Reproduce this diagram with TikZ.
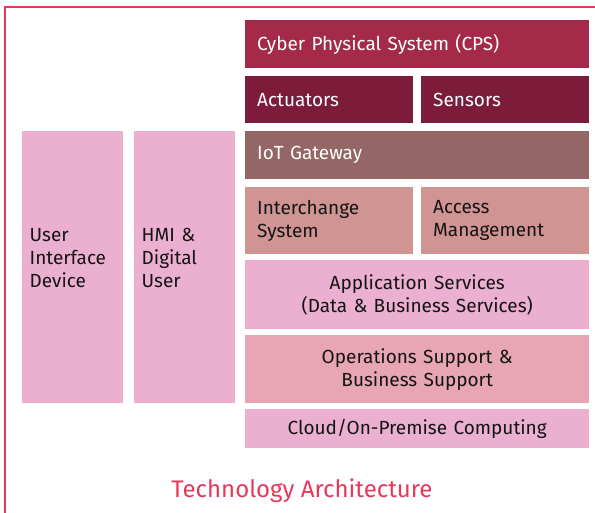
\documentclass[tikz,border=0pt]{standalone}
\usepackage{fontspec}
\setmainfont{Fira Sans}
\usetikzlibrary{positioning}
\definecolor{frame}{RGB}{232,56,90}
\definecolor{wine}{RGB}{165,42,74}
\definecolor{plum}{RGB}{125,28,58}
\definecolor{mauve}{RGB}{148,103,102}
\definecolor{rose}{RGB}{208,148,146}
\definecolor{pink}{RGB}{235,176,207}
\definecolor{blush}{RGB}{232,166,180}
\definecolor{ink}{RGB}{20,20,20}
\tikzset{
  layer/.style={anchor=north west,inner xsep=12pt,inner ysep=0pt,align=left,
                font=\fontsize{19}{23}\selectfont,text=ink},
  darklayer/.style={layer,text=white},
  wide/.style={text width=320pt},
  half/.style={text width=144pt},
  midlayer/.style={layer,wide,align=center},
  side/.style={layer,fill=pink,inner xsep=7.5pt,text width=86pt,minimum height=272pt}
}

\begin{document}
\begin{tikzpicture}[x=1pt,y=-1pt]
  \useasboundingbox (0,0) rectangle (595,513);
  \draw[frame,line width=1.5pt] (5,530) rectangle (610,7);

  % device side (empty last line lifts the text a little)
  \node[side] (uid) at (22,131) {User\\Interface\\Device\\[-5pt]\mbox{}};
  \node[side] (hmi) at (134,131) {HMI \&\\Digital\\User\\[-5pt]\mbox{}};

  % layer stack
  \node[darklayer,wide,fill=wine,minimum height=48pt] (cps) at (245,20) {Cyber Physical System (CPS)};
  \node[darklayer,half,fill=plum,minimum height=47pt] (act) at (245,76) {Actuators};
  \node[darklayer,half,fill=plum,minimum height=47pt] (sen) at (421,76) {Sensors};
  \node[darklayer,wide,fill=mauve,minimum height=48pt] (gw) at (245,131) {IoT Gateway};
  \node[layer,half,fill=rose,minimum height=67pt] (xch) at (245,187) {Interchange\\System};
  \node[layer,half,fill=rose,minimum height=67pt] (acc) at (421,187) {Access\\Management};
  \node[midlayer,fill=pink,minimum height=69pt] (app) at (245,260) {Application Services\\(Data \& Business Services)};
  \node[midlayer,fill=blush,minimum height=68pt] (ops) at (245,335) {Operations Support \&\\Business Support};
  \node[midlayer,fill=pink,minimum height=39pt] (cloud) at (245,409) {Cloud/On-Premise Computing};

  \node[text=frame,font=\fontsize{24}{28}\selectfont] (title) at (302,491) {Technology Architecture};
\end{tikzpicture}
\end{document}
